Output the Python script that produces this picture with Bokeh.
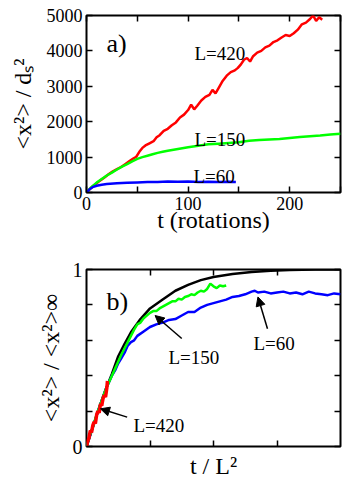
from bokeh.plotting import figure
from bokeh.models import (Range1d, FixedTicker, LinearAxis, Label, Arrow,
                          NormalHead)
from bokeh.layouts import column
from bokeh.embed import file_html
from bokeh.resources import INLINE

# ---------------- data: panel a ----------------
a_red_t = [0, 3, 6, 10, 14, 18, 22, 26, 30, 34, 38, 42, 46, 49, 52, 55, 58, 62,
           66, 69, 72, 76, 80, 84, 88, 92, 96, 100, 103, 106, 109, 113, 117,
           121, 124, 127, 130, 134, 138, 142, 146, 149, 152, 155, 158, 161,
           164, 168, 172, 176, 180, 184, 188, 192, 196, 200, 204, 208, 212,
           216, 220, 223, 226, 229, 232]
a_red_y = [0, 90, 170, 260, 350, 430, 520, 600, 660, 720, 800, 880, 960, 1010,
           1150, 1260, 1330, 1390, 1450, 1560, 1620, 1740, 1800, 1900, 1980,
           2120, 2200, 2330, 2480, 2350, 2450, 2600, 2700, 2760, 2900, 2800,
           2950, 3150, 3300, 3400, 3450, 3520, 3620, 3750, 3800, 3700, 3850,
           3950, 4000, 4100, 4150, 4250, 4300, 4380, 4450, 4420, 4500, 4600,
           4750, 4800, 4900, 5000, 4850, 4950, 4880]
a_green_t = [0, 5, 10, 15, 20, 25, 30, 35, 40, 45, 50, 55, 60, 65, 70, 75, 80,
             90, 100, 110, 120, 130, 140, 150, 160, 170, 180, 190, 200, 210,
             220, 230, 240, 250]
a_green_y = [0, 160, 280, 380, 480, 560, 650, 730, 800, 880, 950, 1000, 1040,
             1080, 1120, 1150, 1180, 1230, 1280, 1320, 1360, 1380, 1400, 1420,
             1460, 1480, 1500, 1510, 1540, 1570, 1590, 1610, 1640, 1660]
a_blue_t = [0, 3, 6, 10, 15, 20, 30, 40, 50, 60, 70, 80, 90, 100, 110, 120,
            130, 140, 147]
a_blue_y = [0, 90, 150, 190, 220, 240, 260, 275, 285, 295, 300, 310, 305, 310,
            300, 305, 300, 305, 300]
a_xticks = [0, 50, 100, 150, 200, 250]
a_xlabels = {50: "", 150: "", 250: ""}
a_yticks = [0, 1000, 2000, 3000, 4000, 5000]

# ---------------- data: panel b ----------------
b_black_x = [0, 0.1, 0.2, 0.3, 0.4, 0.5, 0.6, 0.7, 0.85, 1.0, 1.2, 1.4, 1.6,
             1.8, 2.0, 2.3, 2.6, 2.9, 3.2, 3.6, 4.0]
b_black_y = [0, 0.11, 0.22, 0.32, 0.41, 0.51, 0.58, 0.645, 0.72, 0.78, 0.83,
             0.88, 0.913, 0.94, 0.958, 0.975, 0.986, 0.993, 0.997, 1.0, 1.0]
b_green_x = [0, 0.05, 0.1, 0.15, 0.2, 0.25, 0.3, 0.35, 0.4, 0.45, 0.5, 0.55,
             0.6, 0.65, 0.7, 0.75, 0.8, 0.85, 0.9, 0.95, 1.0, 1.05, 1.1, 1.15,
             1.2, 1.25, 1.3, 1.35, 1.4, 1.45, 1.5, 1.55, 1.6, 1.65, 1.7, 1.75,
             1.8, 1.85, 1.9, 1.95, 2.0, 2.05, 2.1, 2.15, 2.2]
b_green_y = [0, 0.06, 0.11, 0.17, 0.22, 0.27, 0.32, 0.36, 0.40, 0.44, 0.48,
             0.52, 0.555, 0.59, 0.625, 0.66, 0.69, 0.70, 0.725, 0.74, 0.755,
             0.765, 0.765, 0.78, 0.79, 0.80, 0.81, 0.82, 0.82, 0.835, 0.83,
             0.845, 0.85, 0.86, 0.855, 0.87, 0.88, 0.875, 0.89, 0.92, 0.905,
             0.895, 0.91, 0.905, 0.91]
b_blue_x = [0, 0.1, 0.2, 0.3, 0.35, 0.4, 0.45, 0.5, 0.55, 0.6, 0.65, 0.7, 0.75,
            0.8, 0.9, 1.0, 1.1, 1.2, 1.3, 1.4, 1.5, 1.6, 1.7, 1.8, 1.9, 2.0,
            2.1, 2.2, 2.3, 2.4, 2.5, 2.6, 2.65, 2.7, 2.8, 2.9, 3.0, 3.1, 3.2,
            3.3, 3.4, 3.5, 3.6, 3.7, 3.8, 3.9, 4.0]
b_blue_y = [0, 0.11, 0.22, 0.32, 0.36, 0.40, 0.43, 0.47, 0.50, 0.53, 0.57,
            0.59, 0.60, 0.625, 0.65, 0.675, 0.69, 0.70, 0.715, 0.72, 0.74,
            0.76, 0.76, 0.785, 0.80, 0.81, 0.82, 0.83, 0.845, 0.85, 0.86,
            0.875, 0.88, 0.87, 0.875, 0.865, 0.87, 0.875, 0.865, 0.87, 0.86,
            0.875, 0.865, 0.86, 0.855, 0.865, 0.86]
b_red_x = [0, 0.02, 0.04, 0.06, 0.08, 0.10, 0.12, 0.14, 0.16, 0.18, 0.20,
           0.22, 0.24, 0.26, 0.28, 0.30, 0.32, 0.33]
b_red_y = [0, 0.03, 0.05, 0.09, 0.08, 0.12, 0.14, 0.13, 0.18, 0.20, 0.19,
           0.24, 0.23, 0.27, 0.29, 0.28, 0.33, 0.37]
b_xticks = [1, 2, 3]
b_yticks = [0, 0.2, 0.4, 0.6, 0.8, 1]
b_ylabels = {0.2: "", 0.4: "", 0.6: "", 0.8: ""}

FONT = "Liberation Serif"


def style_axes(p, xticks, yticks, xlab=None, ylab=None, show_x=True):
    for side in ("above", "right"):
        p.add_layout(LinearAxis(), side)
    for ax in p.axis:
        ax.axis_line_color = None
        ax.major_tick_in = 6
        ax.major_tick_out = 0
        ax.major_tick_line_width = 1.5
        ax.minor_tick_line_color = None
        ax.major_label_text_font = FONT
        ax.major_label_text_font_size = "18px"
        ax.major_label_text_color = "black"
        ax.major_label_standoff = 4
        ax.axis_label_text_font = FONT
        ax.axis_label_text_font_size = "24px"
        ax.axis_label_text_font_style = "normal"
        ax.axis_label_text_color = "black"
    for ax in p.xaxis:
        ax.ticker = FixedTicker(ticks=xticks)
    for ax in p.yaxis:
        ax.ticker = FixedTicker(ticks=yticks)
    for ax in (p.above[0], p.right[0]):
        ax.major_label_text_font_size = "0px"
        ax.major_label_standoff = 0
    if xlab is not None:
        p.below[0].major_label_overrides = xlab
    if not show_x:
        p.below[0].major_label_text_font_size = "0px"
        p.below[0].major_label_standoff = 0
    if ylab is not None:
        p.left[0].major_label_overrides = ylab


def lab(p, x, y, text, size):
    p.add_layout(Label(x=x, y=y, x_units="screen", y_units="screen",
                       text=text, text_font=FONT, text_font_size=size,
                       text_baseline="alphabetic", text_color="black"))


# ---------------- panel a ----------------
pa = figure(width=345, height=240, x_range=Range1d(0, 250),
            y_range=Range1d(0, 5000), output_backend="svg",
            toolbar_location=None, min_border_left=86, min_border_right=5,
            min_border_top=15, min_border_bottom=48)
pa.grid.visible = False
pa.outline_line_color = "black"
pa.outline_line_width = 2
pa.border_fill_color = "white"
style_axes(pa, a_xticks, a_yticks, xlab=a_xlabels)
pa.below[0].axis_label = "t (rotations)"
pa.below[0].axis_label_standoff = -6
pa.left[0].axis_label = "<x\u00b2> / d\u209b\u00b2"
pa.left[0].axis_label_standoff = 8

pa.line(a_red_t, a_red_y, line_color="#ff0000", line_width=2.5)
pa.line(a_green_t, a_green_y, line_color="#00ff00", line_width=2.5)
pa.line(a_blue_t, a_blue_y, line_color="#0000ff", line_width=2.5)

lab(pa, 20, 149, "a)", "26px")
lab(pa, 108, 139, "L=420", "19px")
lab(pa, 108, 53, "L=150", "19px")
lab(pa, 107, 16, "L=60", "19px")

# ---------------- panel b ----------------
pb = figure(width=345, height=246, x_range=Range1d(0, 4),
            y_range=Range1d(0, 1), output_backend="svg",
            toolbar_location=None, min_border_left=86, min_border_right=5,
            min_border_top=29, min_border_bottom=40)
pb.grid.visible = False
pb.outline_line_color = "black"
pb.outline_line_width = 2
pb.border_fill_color = "white"
style_axes(pb, b_xticks, b_yticks, ylab=b_ylabels, show_x=False)
pb.left[0].major_label_text_font_size = "20px"
pb.below[0].axis_label = "t / L\u00b2"
pb.below[0].axis_label_standoff = 6
pb.left[0].axis_label = "<x\u00b2> / <x\u00b2>\u221e"
pb.left[0].axis_label_standoff = 6

pb.line(b_black_x, b_black_y, line_color="black", line_width=2.5)
pb.line(b_blue_x, b_blue_y, line_color="#0000ff", line_width=2.5)
pb.line(b_green_x, b_green_y, line_color="#00ff00", line_width=2.5)
pb.line(b_red_x, b_red_y, line_color="#ff0000", line_width=3.5)

lab(pb, 20, 145, "b)", "26px")
lab(pb, 82, 89, "L=150", "19px")
lab(pb, 167, 103, "L=60", "19px")
lab(pb, 47, 21, "L=420", "19px")

for (xs, ys, xe, ye) in [(1.50, 0.61, 1.08, 0.74), (2.85, 0.665, 2.70, 0.845),
                         (0.64, 0.166, 0.22, 0.213)]:
    pb.add_layout(Arrow(end=NormalHead(size=9, fill_color="black",
                                       line_color="black"),
                        x_start=xs, y_start=ys, x_end=xe, y_end=ye,
                        line_width=1.5, line_color="black"))

layout = column(pa, pb, spacing=0)
open("out.html", "w").write(file_html(layout, INLINE))
